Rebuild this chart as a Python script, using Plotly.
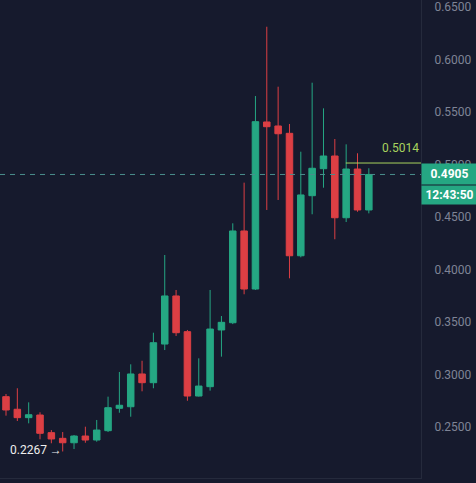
import plotly.graph_objects as go

# ---- data ----
opens = [0.2789, 0.2669, 0.2589, 0.2614, 0.2446, 0.2392, 0.2350, 0.2414, 0.2376, 0.2465,
         0.2678, 0.2693, 0.3005, 0.2922, 0.3290, 0.3748, 0.3408, 0.2795, 0.2884, 0.3424,
         0.3493, 0.4367, 0.3814, 0.5405, 0.5367, 0.5297, 0.4131, 0.4703, 0.4960, 0.5081,
         0.4493, 0.4957, 0.4567]
highs = [0.2814, 0.2869, 0.2735, 0.2640, 0.2471, 0.2452, 0.2424, 0.2503, 0.2567, 0.2789,
         0.3024, 0.3097, 0.3131, 0.3398, 0.4138, 0.3805, 0.3424, 0.3154, 0.3805, 0.3557,
         0.4440, 0.4827, 0.5652, 0.6312, 0.5741, 0.5386, 0.5122, 0.5779, 0.5535, 0.5243,
         0.5192, 0.5107, 0.4964]
lows = [0.2608, 0.2557, 0.2535, 0.2383, 0.2345, 0.2267, 0.2290, 0.2350, 0.2360, 0.2452,
        0.2636, 0.2598, 0.2840, 0.2869, 0.3233, 0.3367, 0.2750, 0.2790, 0.2846, 0.3170,
        0.3480, 0.3764, 0.3805, 0.4567, 0.4662, 0.3916, 0.4116, 0.4526, 0.4779, 0.4288,
        0.4452, 0.4550, 0.4535]
closes = [0.2662, 0.2589, 0.2617, 0.2440, 0.2386, 0.2350, 0.2414, 0.2376, 0.2471, 0.2684,
          0.2707, 0.3005, 0.2922, 0.3303, 0.3748, 0.3398, 0.2795, 0.2890, 0.3433, 0.3497,
          0.4367, 0.3814, 0.5408, 0.5360, 0.5293, 0.4131, 0.4710, 0.4964, 0.5081, 0.4493,
          0.4957, 0.4567, 0.4905]
x_idx = list(range(len(opens)))

tick_vals = [0.25, 0.30, 0.35, 0.40, 0.45, 0.50, 0.55, 0.60, 0.65]
last_price = 0.4905
last_price_text = "0.4905"
countdown_text = "12:43:50"
marker_price = 0.5014
marker_text = "0.5014"
low_price = 0.2267
low_text = "0.2267 →"
low_idx = 5
marker_start_idx = 30

BG = "#161a2d"
GREEN = "#25a783"
RED = "#dc3f44"
LIME = "#a8d35e"

fig = go.Figure()
fig.add_trace(go.Candlestick(
    x=x_idx, open=opens, high=highs, low=lows, close=closes,
    increasing=dict(line=dict(color=GREEN, width=1), fillcolor=GREEN),
    decreasing=dict(line=dict(color=RED, width=1), fillcolor=RED),
    whiskerwidth=0, showlegend=False, hoverinfo="skip",
))

# last price dashed line
fig.add_shape(type="line", xref="paper", yref="y", x0=0, x1=1, y0=last_price, y1=last_price,
              line=dict(color="#4a8e8c", width=1, dash="5px,5px"), layer="above")
# marker line
fig.add_shape(type="line", xref="x", yref="y", x0=marker_start_idx - 0.03, x1=36.6,
              y0=marker_price, y1=marker_price, line=dict(color=LIME, width=1), layer="above")

annotations = [
    dict(x=1.0, xref="paper", y=last_price, yref="y", text="<b>" + last_price_text + "</b>",
         showarrow=False, xanchor="left", yanchor="middle", bgcolor=GREEN,
         font=dict(color="white", size=12, family="Roboto"), width=51, height=16, borderpad=2,
         align="center"),
    dict(x=1.0, xref="paper", y=last_price, yref="y", yshift=-21, text="<b>" + countdown_text + "</b>",
         showarrow=False, xanchor="left", yanchor="middle", bgcolor=GREEN,
         font=dict(color="white", size=12, family="Roboto"), width=51, height=14, borderpad=2,
         align="center"),
    dict(x=0.993, xref="paper", y=marker_price, yref="y", yshift=6, xshift=3, text=marker_text,
         showarrow=False, xanchor="right", yanchor="bottom",
         font=dict(color=LIME, size=12, family="Roboto")),
    dict(x=low_idx, xref="x", y=low_price, yref="y", xshift=1, yshift=1, text=low_text,
         showarrow=False, xanchor="right", yanchor="middle",
         font=dict(color="#eeeeee", size=12, family="Roboto")),
]

fig.update_layout(
    width=476, height=483,
    margin=dict(l=0, r=55, t=0, b=5),
    paper_bgcolor=BG, plot_bgcolor=BG,
    boxgap=0.18,
    annotations=annotations,
    font=dict(family="Roboto"),
    xaxis=dict(range=[-0.529, 36.6], showgrid=False, zeroline=False, showticklabels=False,
               rangeslider=dict(visible=False), showline=True, linecolor="#252a3c", linewidth=1,
               fixedrange=True),
    yaxis=dict(range=[0.20143, 0.65667], side="right", tickvals=tick_vals, tickformat=".4f",
               showgrid=False, zeroline=False, showline=True, linecolor="#252a3c", linewidth=1,
               tickfont=dict(color="#7f8496", size=12, family="Roboto"),
               ticks="", ticklabelstandoff=10, fixedrange=True),
)

fig.write_html(
    "out.html",
    config={"displayModeBar": False},
    post_script="document.body.style.margin='0px';document.body.style.overflow='hidden';"
                "document.body.style.background='" + BG + "';",
)
